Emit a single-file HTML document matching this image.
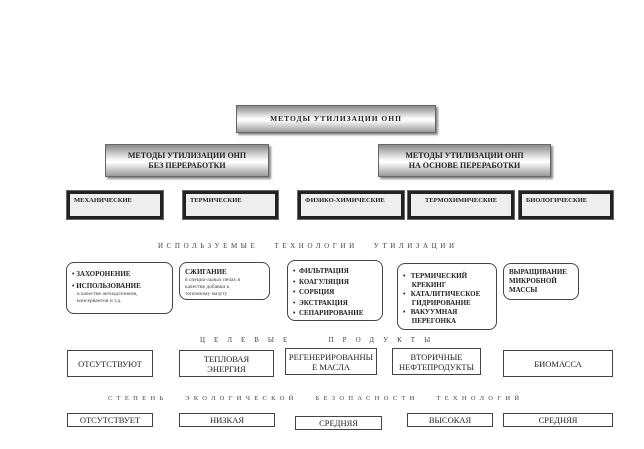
<!DOCTYPE html>
<html><head><meta charset="utf-8"><style>
body{margin:0;width:644px;height:449px;background:#fff;position:relative;overflow:hidden;font-family:"Liberation Serif","DejaVu Serif",serif;color:#222}
.a{position:absolute;box-sizing:border-box}
.g{background:linear-gradient(#8a8a8a,#f4f4f4 45%,#fff 55%,#9a9a9a);border:1px solid #666;box-shadow:2px 2px 2px #888;font-weight:bold;font-size:8px;text-align:center;display:flex;align-items:center;justify-content:center;line-height:10px}
.m{border:3px solid #222;outline:1px solid #666;background:#eee;font-weight:bold;font-size:6.5px;padding:3px 4px}
.h{font-size:7px;letter-spacing:4px;color:#444;white-space:nowrap}
.r{border:1.2px solid #444;border-radius:8px;font-size:7px;padding:5px 5px;line-height:9px}
.r b{font-size:7px}
.s{font-size:5.5px;color:#444;line-height:7px}
.p{border:1.2px solid #444;font-size:8.5px;display:flex;align-items:center;justify-content:center;text-align:center;line-height:10px}
</style></head><body>
<div class="a g" style="left:236px;top:105px;width:200px;height:28px;font-size:7.5px;letter-spacing:1px">МЕТОДЫ УТИЛИЗАЦИИ ОНП</div>
<div class="a g" style="left:105px;top:144px;width:164px;height:33px">МЕТОДЫ УТИЛИЗАЦИИ ОНП<br>БЕЗ ПЕРЕРАБОТКИ</div>
<div class="a g" style="left:378px;top:144px;width:173px;height:33px">МЕТОДЫ УТИЛИЗАЦИИ ОНП<br>НА ОСНОВЕ ПЕРЕРАБОТКИ</div>
<div class="a m" style="left:67px;top:191px;width:96px;height:28px">МЕХАНИЧЕСКИЕ</div>
<div class="a m" style="left:183px;top:191px;width:95px;height:28px">ТЕРМИЧЕСКИЕ</div>
<div class="a m" style="left:298px;top:191px;width:106px;height:28px">ФИЗИКО-ХИМИЧЕСКИЕ</div>
<div class="a m" style="left:408px;top:191px;width:106px;height:28px;padding-left:14px">ТЕРМОХИМИЧЕСКИЕ</div>
<div class="a m" style="left:519px;top:191px;width:94px;height:28px">БИОЛОГИЧЕСКИЕ</div>
<div class="a h" style="left:158px;top:242px;letter-spacing:3.6px">ИСПОЛЬЗУЕМЫЕ &nbsp; ТЕХНОЛОГИИ &nbsp; УТИЛИЗАЦИИ</div>
<div class="a r" style="left:66px;top:262px;width:107px;height:52px;padding-top:7px"><b>• ЗАХОРОНЕНИЕ</b><br><b style="display:block;margin-top:3px">• ИСПОЛЬЗОВАНИЕ</b><div class="s" style="padding-left:5px">в качестве антиадгезивов,<br>консервантов и т.д.</div></div>
<div class="a r" style="left:179px;top:262px;width:91px;height:38px"><b>СЖИГАНИЕ</b><div class="s">в специа-льных печах в<br>качестве добавки к<br>топочному мазуту</div></div>
<div class="a r" style="left:287px;top:260px;width:96px;height:61px;padding-top:5px;line-height:10.5px"><b>•&nbsp; ФИЛЬТРАЦИЯ<br>•&nbsp; КОАГУЛЯЦИЯ<br>•&nbsp; СОРБЦИЯ<br>•&nbsp; ЭКСТРАКЦИЯ<br>•&nbsp; СЕПАРИРОВАНИЕ</b></div>
<div class="a r" style="left:397px;top:263px;width:100px;height:67px;padding-top:8px"><b>•&nbsp;&nbsp; ТЕРМИЧЕСКИЙ<br>&nbsp;&nbsp;&nbsp;&nbsp; КРЕКИНГ<br>•&nbsp;&nbsp; КАТАЛИТИЧЕСКОЕ<br>&nbsp;&nbsp;&nbsp;&nbsp; ГИДРИРОВАНИЕ<br>•&nbsp;&nbsp; ВАКУУМНАЯ<br>&nbsp;&nbsp;&nbsp;&nbsp; ПЕРЕГОНКА</b></div>
<div class="a r" style="left:503px;top:263px;width:76px;height:37px;padding-top:4px"><b>ВЫРАЩИВАНИЕ<br>МИКРОБНОЙ<br>МАССЫ</b></div>
<div class="a h" style="left:200px;top:336px;letter-spacing:9px">ЦЕЛЕВЫЕ &nbsp; ПРОДУКТЫ</div>
<div class="a p" style="left:67px;top:350px;width:86px;height:27px">ОТСУТСТВУЮТ</div>
<div class="a p" style="left:179px;top:350px;width:95px;height:27px">ТЕПЛОВАЯ<br>ЭНЕРГИЯ</div>
<div class="a p" style="left:285px;top:348px;width:92px;height:27px">РЕГЕНЕРИРОВАННЫ<br>Е МАСЛА</div>
<div class="a p" style="left:392px;top:348px;width:89px;height:27px">ВТОРИЧНЫЕ<br>НЕФТЕПРОДУКТЫ</div>
<div class="a p" style="left:503px;top:350px;width:110px;height:27px">БИОМАССА</div>
<div class="a h" style="left:108px;top:395px;letter-spacing:4.3px;font-size:6.5px">СТЕПЕНЬ &nbsp; ЭКОЛОГИЧЕСКОЙ &nbsp; БЕЗОПАСНОСТИ &nbsp; ТЕХНОЛОГИЙ</div>
<div class="a p" style="left:67px;top:413px;width:86px;height:14px">ОТСУТСТВУЕТ</div>
<div class="a p" style="left:179px;top:413px;width:96px;height:14px">НИЗКАЯ</div>
<div class="a p" style="left:295px;top:416px;width:87px;height:14px">СРЕДНЯЯ</div>
<div class="a p" style="left:407px;top:413px;width:86px;height:14px">ВЫСОКАЯ</div>
<div class="a p" style="left:503px;top:413px;width:110px;height:14px">СРЕДНЯЯ</div>
</body></html>
